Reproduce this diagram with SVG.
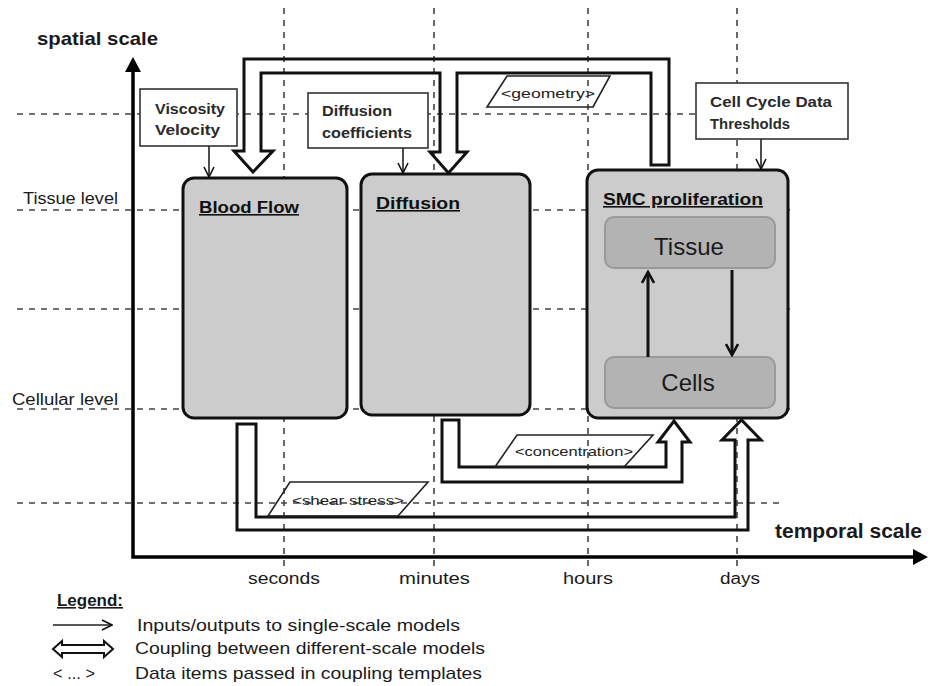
<svg xmlns="http://www.w3.org/2000/svg" width="930" height="686" viewBox="0 0 930 686">
<style>
.grid{stroke:#444;stroke-width:1.6;stroke-dasharray:6,6;fill:none}
.axis{stroke:#000;stroke-width:3.5;fill:none}
.model{fill:#cccccc;stroke:#111;stroke-width:3}
.sub{fill:#b3b3b3;stroke:#999;stroke-width:2}
.inbox{fill:#fff;stroke:#333;stroke-width:1.6}
.couple{fill:none;stroke:#111;stroke-width:3;stroke-linejoin:miter}
.tag{fill:none;stroke:#222;stroke-width:1.6}
.io{stroke:#222;stroke-width:1.6;fill:none}
.inner{stroke:#111;stroke-width:3;fill:none}
.t{font-family:"Liberation Sans",Arial,sans-serif;fill:#1a1a1a}
.b{font-weight:bold}
.title{font-family:"Liberation Sans",Arial,sans-serif;font-weight:bold;font-size:16px;fill:#111;text-decoration:underline}
.inp{font-family:"Liberation Sans",Arial,sans-serif;font-weight:bold;font-size:14px;fill:#2a2a2a}
.tagt{font-family:"Liberation Sans",Arial,sans-serif;font-size:13px;fill:#222}
</style>
<defs>
<marker id="v" viewBox="0 0 12 12" refX="11" refY="6" markerWidth="12" markerHeight="12" orient="auto" markerUnits="userSpaceOnUse">
<path d="M1,1 L11,6 L1,11" fill="none" stroke="#111" stroke-width="1.6"/>
</marker>
<marker id="vb" viewBox="0 0 14 14" refX="12" refY="7" markerWidth="14" markerHeight="14" orient="auto" markerUnits="userSpaceOnUse">
<path d="M1,1 L12,7 L1,13" fill="none" stroke="#111" stroke-width="2.6"/>
</marker>
</defs>
<rect width="930" height="686" fill="#fff"/>

<g id="grid">
<line class="grid" x1="17" y1="114" x2="790" y2="114"/>
<line class="grid" x1="17" y1="210" x2="790" y2="210"/>
<line class="grid" x1="17" y1="309" x2="790" y2="309"/>
<line class="grid" x1="17" y1="409" x2="790" y2="409"/>
<line class="grid" x1="17" y1="503" x2="785" y2="503"/>
<line class="grid" x1="284" y1="8" x2="284" y2="566"/>
<line class="grid" x1="434" y1="8" x2="434" y2="566"/>
<line class="grid" x1="588" y1="8" x2="588" y2="566"/>
<line class="grid" x1="737" y1="8" x2="737" y2="566"/>
</g>

<g id="axes">
<polyline class="axis" points="133,68 133,557 915,557"/>
<polygon points="133,57 125,72 141,72" fill="#000"/>
<polygon points="928,557 913,549 913,565" fill="#000"/>
<text class="t b" x="37" y="45" font-size="19" textLength="121" lengthAdjust="spacingAndGlyphs">spatial scale</text>
<text class="t b" x="775" y="538" font-size="20" textLength="147" lengthAdjust="spacingAndGlyphs">temporal scale</text>
<text class="t" x="23" y="204" font-size="16" textLength="95" lengthAdjust="spacingAndGlyphs">Tissue level</text>
<text class="t" x="12" y="405" font-size="16" textLength="106" lengthAdjust="spacingAndGlyphs">Cellular level</text>
<text class="t" x="248" y="584" font-size="16" textLength="72" lengthAdjust="spacingAndGlyphs">seconds</text>
<text class="t" x="399" y="584" font-size="16" textLength="71" lengthAdjust="spacingAndGlyphs">minutes</text>
<text class="t" x="563" y="584" font-size="16" textLength="50" lengthAdjust="spacingAndGlyphs">hours</text>
<text class="t" x="720" y="584" font-size="16" textLength="40" lengthAdjust="spacingAndGlyphs">days</text>
</g>

<g id="blood-flow">
<rect class="model" x="183" y="178" width="164" height="240" rx="11"/>
<text class="title" x="199" y="213" textLength="100" lengthAdjust="spacingAndGlyphs">Blood Flow</text>
</g>

<g id="diffusion">
<rect class="model" x="361" y="174" width="169" height="241" rx="11"/>
<text class="title" x="376" y="209" textLength="84" lengthAdjust="spacingAndGlyphs">Diffusion</text>
</g>

<g id="smc-proliferation">
<rect class="model" x="587" y="170" width="201" height="248" rx="11"/>
<text class="title" x="603" y="205" textLength="160" lengthAdjust="spacingAndGlyphs">SMC proliferation</text>
</g>

<g id="tissue">
<rect class="sub" x="605" y="217" width="170" height="51" rx="9"/>
<text class="t" x="689" y="255" font-size="24" text-anchor="middle" fill="#2a2a2a">Tissue</text>
</g>

<g id="cells">
<rect class="sub" x="605" y="357" width="170" height="51" rx="9"/>
<text class="t" x="688" y="391" font-size="24" text-anchor="middle" fill="#2a2a2a">Cells</text>
</g>

<g id="viscosity-velocity">
<rect class="inbox" x="140" y="89" width="97" height="57"/>
<text class="inp" x="155" y="114" textLength="70" lengthAdjust="spacingAndGlyphs">Viscosity</text>
<text class="inp" x="155" y="135" textLength="65" lengthAdjust="spacingAndGlyphs">Velocity</text>
</g>

<g id="diffusion-coefficients">
<rect class="inbox" x="308" y="93" width="120" height="55"/>
<text class="inp" x="322" y="116" textLength="70" lengthAdjust="spacingAndGlyphs">Diffusion</text>
<text class="inp" x="322" y="138" textLength="90" lengthAdjust="spacingAndGlyphs">coefficients</text>
</g>

<g id="cell-cycle-data">
<rect class="inbox" x="696" y="83" width="152" height="56"/>
<text class="inp" x="710" y="107" textLength="122" lengthAdjust="spacingAndGlyphs">Cell Cycle Data</text>
<text class="inp" x="710" y="129" textLength="80" lengthAdjust="spacingAndGlyphs">Thresholds</text>
</g>

<g id="connectors">
<line class="io" x1="209" y1="146" x2="209" y2="177" marker-end="url(#v)"/>
<line class="io" x1="403" y1="148" x2="403" y2="173" marker-end="url(#v)"/>
<line class="io" x1="761" y1="139" x2="761" y2="169" marker-end="url(#v)"/>
<line class="inner" x1="648" y1="357" x2="648" y2="272" marker-end="url(#vb)"/>
<line class="inner" x1="732" y1="270" x2="732" y2="355" marker-end="url(#vb)"/>
<path class="couple" d="M253,172 L273,151 L261,151 L261,73 L440,73 L440,152 L430,152 L448.5,173 L467,152 L457,152 L457,73 L651,73 L651,165 L669,165 L669,59 L244,59 L244,151 L234,151 Z"/>
<path class="couple" d="M442,420 L459,420 L459,467 L666,467 L666,442 L658,442 L674,421 L690,442 L682,442 L682,482 L442,482 Z"/>
<path class="couple" d="M237,424 L256,424 L256,517 L735,517 L735,440 L722,440 L741.5,420 L761,440 L748,440 L748,530 L237,530 Z"/>
<polygon class="tag" points="507,76 610,76 593,107 487,107"/>
<text class="tagt" x="548" y="98" text-anchor="middle" textLength="94" lengthAdjust="spacingAndGlyphs">&lt;geometry&gt;</text>
<polygon class="tag" points="517,435 653,435 624,467 495,467"/>
<text class="tagt" x="574" y="456" text-anchor="middle" textLength="118" lengthAdjust="spacingAndGlyphs">&lt;concentration&gt;</text>
<polygon class="tag" points="290,482 428,482 398,516 268,516"/>
<text class="tagt" x="348" y="505" text-anchor="middle" textLength="112" lengthAdjust="spacingAndGlyphs">&lt;shear stress&gt;</text>
</g>

<g id="legend">
<text class="t b" x="57" y="606" font-size="16" text-decoration="underline" textLength="66" lengthAdjust="spacingAndGlyphs">Legend:</text>
<line class="io" x1="53" y1="625" x2="112" y2="625" stroke-width="2" marker-end="url(#v)"/>
<path d="M53,649 L62,641 L62,645 L104,645 L104,641 L113,649 L104,657 L104,653 L62,653 L62,657 Z" fill="none" stroke="#111" stroke-width="2"/>
<text class="t" x="53" y="679" font-size="17" textLength="42" lengthAdjust="spacingAndGlyphs">&lt; ... &gt;</text>
<text class="t" x="137" y="631" font-size="17" textLength="323" lengthAdjust="spacingAndGlyphs">Inputs/outputs to single-scale models</text>
<text class="t" x="135" y="654" font-size="17" textLength="350" lengthAdjust="spacingAndGlyphs">Coupling between different-scale models</text>
<text class="t" x="135" y="679" font-size="17" textLength="347" lengthAdjust="spacingAndGlyphs">Data items passed in coupling templates</text>
</g>
</svg>
